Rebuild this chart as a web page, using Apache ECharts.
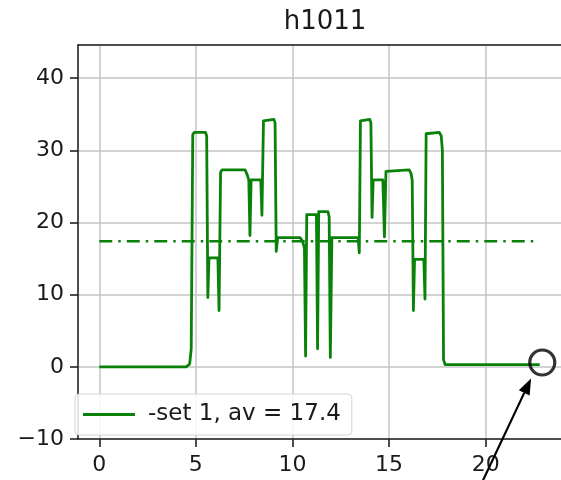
<!DOCTYPE html>
<html>
<head>
<meta charset="utf-8">
<script src="https://cdn.jsdelivr.net/npm/echarts@6/dist/echarts.min.js"></script>
<style>
  html, body { margin: 0; padding: 0; background: #fff; }
  #chart { width: 561px; height: 480px; }
</style>
</head>
<body>
<div id="chart"></div>
<script>
// time axis and the "-set 1" trace
const setTime = [
  0, 4.5, 4.68, 4.76, 4.84, 4.92,
  5.5, 5.56, 5.62, 5.68, 6.14, 6.2, 6.28, 6.36,
  7.55, 7.66, 7.74, 7.8, 7.86, 8.36, 8.42, 8.5, 8.58,
  9.04, 9.1, 9.16, 9.24, 10.4, 10.52, 10.62, 10.68, 10.74, 11.24, 11.3, 11.36, 11.84, 11.9, 11.96, 12.04,
  13.4, 13.46, 13.52, 13.58, 14.0, 14.06, 14.12, 14.18, 14.68, 14.76, 14.84, 14.9,
  16.04, 16.14, 16.2, 16.26, 16.32, 16.8, 16.86, 16.92, 17.0, 17.6, 17.7, 17.76, 17.82, 17.9, 22.8
]
const setValue = [
  0, 0, 0.4, 2.5, 32.2, 32.5,
  32.5, 32, 9.6, 15.1, 15.1, 7.8, 27.0, 27.3,
  27.3, 26.6, 25.9, 18.2, 25.9, 25.9, 21.0, 34.1, 34.3,
  34.3, 33.8, 16.0, 17.9, 17.9, 17.4, 16.5, 1.5, 21.1, 21.1, 2.5, 21.5, 21.5, 20.8, 1.3, 17.9,
  17.9, 15.8, 34.1, 34.3, 34.3, 33.8, 20.7, 25.9, 25.9, 18.0, 27.1, 27.3,
  27.3, 26.8, 25.8, 7.8, 14.9, 14.9, 9.4, 32.3, 32.5, 32.5, 32, 30, 1.0, 0.3, 0.3
]
const avgValue = 17.4
const avgSpan = [0, 22.7]
const seriesName = '-set 1, av = 17.4'
const chartTitle = 'h1011'
const xTicks = [0, 5, 10, 15, 20]
const yTicks = [-10, 0, 10, 20, 30, 40]
// annotation: circled end point and the arrow pointing at it
const circleAt = [22.93, 0.6]
const arrowFrom = [19.85, -15.8]
const arrowTo = [22.35, -1.6]

const font = 'DejaVu Sans'
const ink = '#1a1a1a'
const green = '#0a820a'
const spine = { show: true, onZero: false, lineStyle: { color: '#222', width: 1.6 } }
const grid = { show: true, lineStyle: { color: '#c4c4c4', width: 1.5 } }
const tick = { show: true, length: 8, lineStyle: { color: '#222', width: 1.6 } }

const chart = echarts.init(document.getElementById('chart'), null, { renderer: 'canvas' })

const fmt = v => (v < 0 ? '\u2212' + Math.abs(v) : String(v))

chart.setOption({
  animation: false,
  title: {
    text: chartTitle,
    left: 320, textAlign: 'center', top: 4,
    textStyle: { fontFamily: font, fontSize: 26, fontWeight: 'normal', color: ink },
  },
  grid: { left: 78, top: 45, right: -4, bottom: 41 },
  legend: {
    data: [seriesName],
    left: 75, top: 394,
    orient: 'vertical',
    icon: 'rect', itemWidth: 52, itemHeight: 3,
    padding: [9, 11, 9, 8],
    backgroundColor: 'rgba(255,255,255,0.85)',
    borderColor: '#d4d4d4', borderWidth: 1, borderRadius: 4,
    textStyle: { fontFamily: font, fontSize: 23, color: ink, padding: [0, 0, 0, 8] },
  },
  xAxis: [
    {
      type: 'value',
      min: -1.1, max: 23.9,
      axisLine: spine,
      axisTick: { ...tick, customValues: xTicks },
      axisLabel: {
        fontFamily: font, fontSize: 22, color: ink, margin: 15,
        customValues: xTicks,
        formatter: fmt,
      },
      splitLine: grid,
    },
    {
      type: 'value', position: 'top',
      min: -1.1, max: 23.9,
      axisLine: spine,
      axisTick: { show: false }, axisLabel: { show: false }, splitLine: { show: false },
    },
  ],
  yAxis: {
    type: 'value',
    min: -10, max: 44.6,
    interval: 10,
    axisLine: spine,
    axisTick: tick,
    axisLabel: {
      fontFamily: font, fontSize: 22, color: ink, margin: 14,
      showMaxLabel: false,
      formatter: v => (yTicks.includes(v) ? fmt(v) : ''),
    },
    splitLine: grid,
  },
  series: [
    {
      name: seriesName,
      type: 'line',
      data: setTime.map((t, i) => [t, setValue[i]]),
      showSymbol: false,
      color: green,
      lineStyle: { color: green, width: 2.8, join: 'round' },
      z: 3,
    },
    {
      name: 'average',
      type: 'line',
      data: avgSpan.map(t => [t, avgValue]),
      showSymbol: false,
      lineStyle: { color: green, width: 2.5, type: [13, 6, 2.5, 6] },
      z: 2,
    },
    {
      name: 'marker',
      type: 'scatter',
      data: [circleAt],
      symbol: 'circle',
      symbolSize: 25,
      itemStyle: { color: 'rgba(0,0,0,0)', borderColor: '#000', borderWidth: 3.2 },
      z: 5,
    },
  ],
})

// arrow drawn in pixel space from data coordinates
const p0 = chart.convertToPixel({ gridIndex: 0 }, arrowFrom)
const p1 = chart.convertToPixel({ gridIndex: 0 }, arrowTo)
const ang = Math.atan2(p1[1] - p0[1], p1[0] - p0[0])
const headLen = 16, headHalf = 6
const base = [p1[0] - headLen * Math.cos(ang), p1[1] - headLen * Math.sin(ang)]
const nx = -Math.sin(ang), ny = Math.cos(ang)
chart.setOption({
  graphic: [
    {
      type: 'line', silent: true, z: 10,
      shape: { x1: p0[0], y1: p0[1], x2: base[0], y2: base[1] },
      style: { stroke: '#000', lineWidth: 2.2 },
    },
    {
      type: 'polygon', silent: true, z: 10,
      shape: { points: [p1, [base[0] + nx * headHalf, base[1] + ny * headHalf], [base[0] - nx * headHalf, base[1] - ny * headHalf]] },
      style: { fill: '#000' },
    },
  ],
})
</script>
</body>
</html>
